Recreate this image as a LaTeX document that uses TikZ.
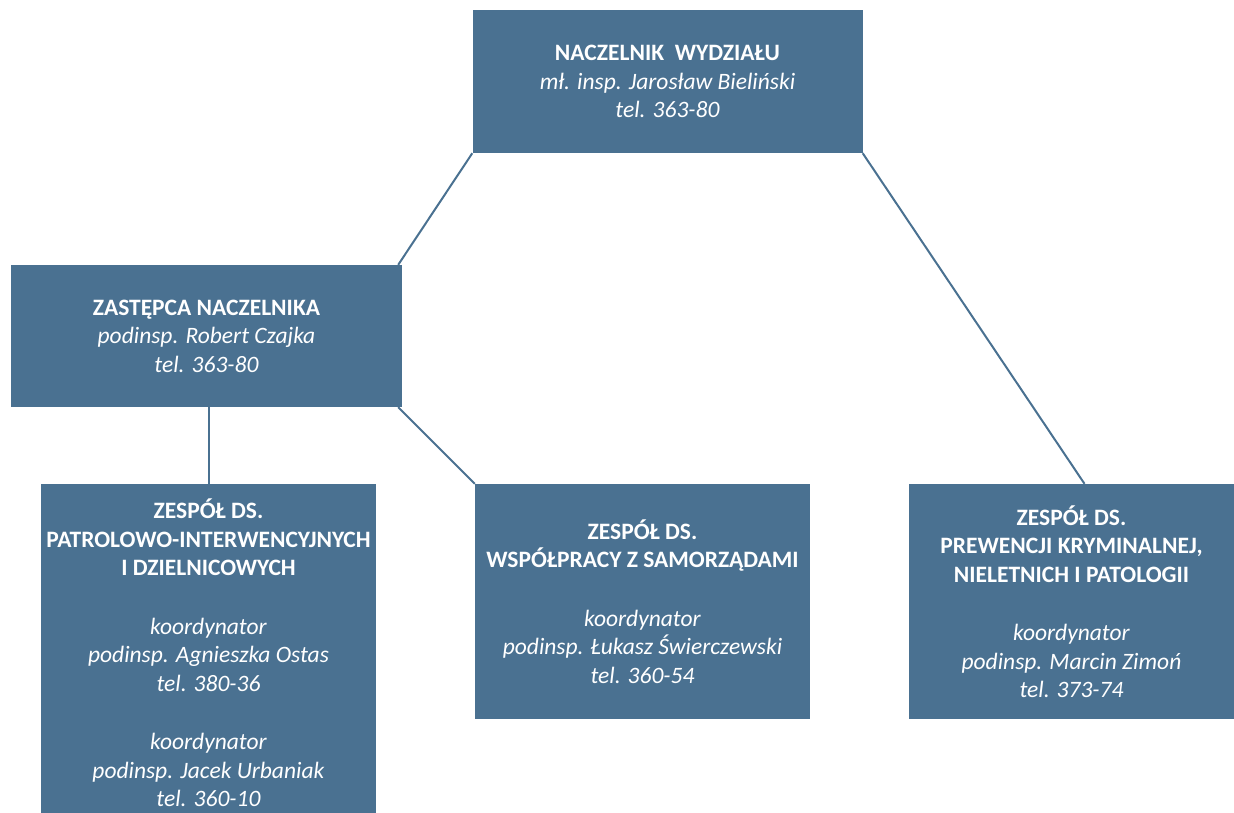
\documentclass[tikz,border=0pt]{standalone}
\usepackage{fontspec}
\setmainfont{Carlito}
\definecolor{boxblue}{RGB}{74,113,145}
\tikzset{
  orgbox/.style={draw=none, fill=boxblue, text=white, inner sep=0pt, align=center,
    font=\fontsize{23.5}{28.5}\selectfont},
  link/.style={draw=boxblue, line width=2pt}
}
\begin{document}
\begin{tikzpicture}[x=1pt,y=-1pt]
\useasboundingbox (0,0) rectangle (1234,812);
\begin{scope}
\clip (0,0) rectangle (1234,812);
\node[orgbox, minimum width=390pt, minimum height=143pt] (top) at (667.5,81.5)
  {\textbf{NACZELNIK~ WYDZIAŁU}\\ \textit{mł. insp. Jarosław Bieliński}\\ \textit{tel. 363-80}};
\node[orgbox, minimum width=391pt, minimum height=142pt] (deputy) at (206.5,336)
  {\textbf{ZASTĘPCA NACZELNIKA}\\ \textit{podinsp. Robert Czajka}\\ \textit{tel. 363-80}};
\node[orgbox, minimum width=335pt, minimum height=338pt] (left) at (208.5,653)
  {\textbf{ZESPÓŁ DS.}\\ \textbf{PATROLOWO-INTERWENCYJNYCH}\\ \textbf{I DZIELNICOWYCH}\\[30pt]
   \textit{koordynator}\\ \textit{podinsp. Agnieszka Ostas}\\ \textit{tel. 380-36}\\[30pt]
   \textit{koordynator}\\ \textit{podinsp. Jacek Urbaniak}\\ \textit{tel. 360-10}};
\node[orgbox, minimum width=335pt, minimum height=235pt] (mid) at (642.5,601.5)
  {\textbf{ZESPÓŁ DS.}\\ \textbf{WSPÓŁPRACY Z SAMORZĄDAMI}\\[30pt]
   \textit{koordynator}\\ \textit{podinsp. Łukasz Świerczewski}\\ \textit{tel. 360-54}};
\node[orgbox, minimum width=325pt, minimum height=235pt] (right) at (1071.5,601.5)
  {\textbf{ZESPÓŁ DS.}\\ \textbf{PREWENCJI KRYMINALNEJ,}\\ \textbf{NIELETNICH I PATOLOGII}\\[30pt]
   \textit{koordynator}\\ \textit{podinsp. Marcin Zimoń}\\ \textit{tel. 373-74}};
\end{scope}
\draw[link] (top.south west) -- ([xshift=-4pt]deputy.north east);
\draw[link] (top.south east) -- ([xshift=13pt]right.north);
\draw[link] (deputy.south -| left.north) -- (left.north);
\draw[link] ([xshift=-4pt]deputy.south east) -- (mid.north west);
\end{tikzpicture}
\end{document}
